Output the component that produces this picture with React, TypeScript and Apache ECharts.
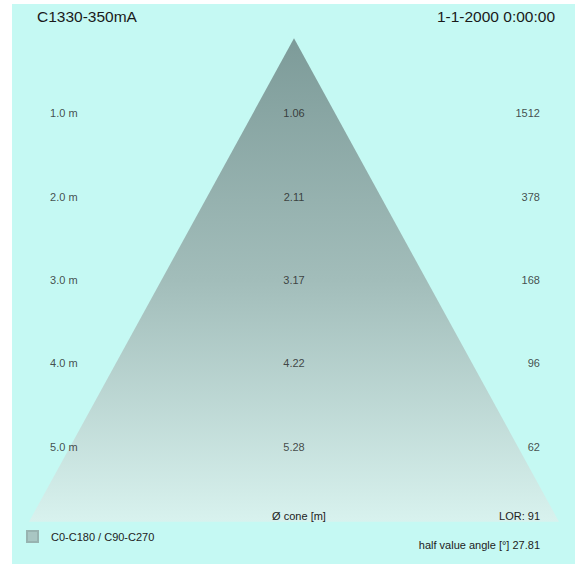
import React, { useEffect, useRef } from "react";
import * as echarts from "echarts";

const distances = [1, 2, 3, 4, 5];
const coneDiameters = [1.06, 2.11, 3.17, 4.22, 5.28];
const illuminance = [1512, 378, 168, 96, 62];
const coneShape = [
  [0, 0.1],
  [-0.92, 5.9],
  [0.92, 5.9],
];
const legendName = "C0-C180 / C90-C270";
const titleLeft = "C1330-350mA";
const titleRight = "1-1-2000 0:00:00";
const lorText = "LOR: 91";
const coneLabel = "Ø cone [m]";
const halfAngleText = "half value angle [°] 27.81";

const LEFT_X = -0.847;
const RIGHT_X = 0.854;

export default function App() {
  const ref = useRef<HTMLDivElement>(null);
  useEffect(() => {
    document.body.style.margin = "0";
    const chart = echarts.init(ref.current!, undefined, { renderer: "svg" });
    const font = "Liberation Sans, Arial, sans-serif";
    const labelStyle = {
      fontFamily: font,
      fontSize: 11,
      color: "#222",
    };
    const titleStyle = { fontSize: 15.5, fontWeight: "normal", color: "#1a1a1a", fontFamily: font };
    chart.setOption({
      animation: false,
      backgroundColor: "#ffffff",
      textStyle: { fontFamily: font },
      graphic: [
        {
          type: "rect",
          z: -10,
          shape: { x: 12, y: 4, width: 563, height: 560 },
          style: { fill: "#c5f9f3" },
          silent: true,
        },
      ],
      title: [
        { text: titleLeft, left: 32, top: 3, textStyle: titleStyle },
        { text: titleRight, right: 23, top: 3, textStyle: titleStyle },
        {
          text: coneLabel,
          left: 294,
          textAlign: "center",
          top: 505,
          textStyle: { ...labelStyle, fontWeight: "normal" },
        },
        {
          text: lorText,
          right: 38,
          top: 505,
          textStyle: { ...labelStyle, fontWeight: "normal" },
        },
        {
          text: halfAngleText,
          right: 38,
          top: 534,
          textStyle: { ...labelStyle, fontWeight: "normal" },
        },
      ],
      legend: {
        left: 21,
        top: 525,
        itemWidth: 11,
        itemHeight: 11,
        icon: "rect",
        data: [legendName],
        textStyle: { ...labelStyle, padding: [0, 0, 0, 8] },
        selectedMode: false,
      },
      grid: { left: 6, right: 1, top: 30, height: 500 },
      xAxis: { type: "value", min: -1, max: 1, show: false },
      yAxis: { type: "value", min: 0, max: 6, inverse: true, show: false },
      series: [
        {
          name: legendName,
          type: "custom",
          itemStyle: { color: "#a9c6c3", borderColor: "#98b3b0", borderWidth: 1 },
          data: [0],
          renderItem: (params: any, api: any) => {
            const pts = coneShape.map((p) => api.coord(p));
            return {
              type: "polygon",
              shape: { points: pts },
              style: {
                fill: new echarts.graphic.LinearGradient(0, 0, 0, 1, [
                  { offset: 0, color: "#7d9b99" },
                  { offset: 0.5, color: "#a2bdba" },
                  { offset: 1, color: "#d8f2ee" },
                ]),
              },
            };
          },
          z: 1,
        },
        {
          type: "scatter",
          symbolSize: 0,
          silent: true,
          data: distances.map((d) => [LEFT_X, d]),
          label: {
            show: true,
            position: "inside",
            align: "left",
            ...labelStyle,
            formatter: (p: any) => `${p.value[1].toFixed(1)} m`,
          },
          z: 3,
        },
        {
          type: "scatter",
          symbolSize: 0,
          silent: true,
          data: distances.map((d, i) => [0, d, coneDiameters[i]]),
          label: {
            show: true,
            position: "inside",
            align: "center",
            ...labelStyle,
            formatter: (p: any) => p.value[2].toFixed(2),
          },
          z: 3,
        },
        {
          type: "scatter",
          symbolSize: 0,
          silent: true,
          data: distances.map((d, i) => [RIGHT_X, d, illuminance[i]]),
          label: {
            show: true,
            position: "inside",
            align: "right",
            ...labelStyle,
            formatter: (p: any) => String(p.value[2]),
          },
          z: 3,
        },
      ],
    });
    return () => chart.dispose();
  }, []);
  return <div ref={ref} style={{ position: "absolute", left: 0, top: 0, width: 583, height: 564 }} />;
}
